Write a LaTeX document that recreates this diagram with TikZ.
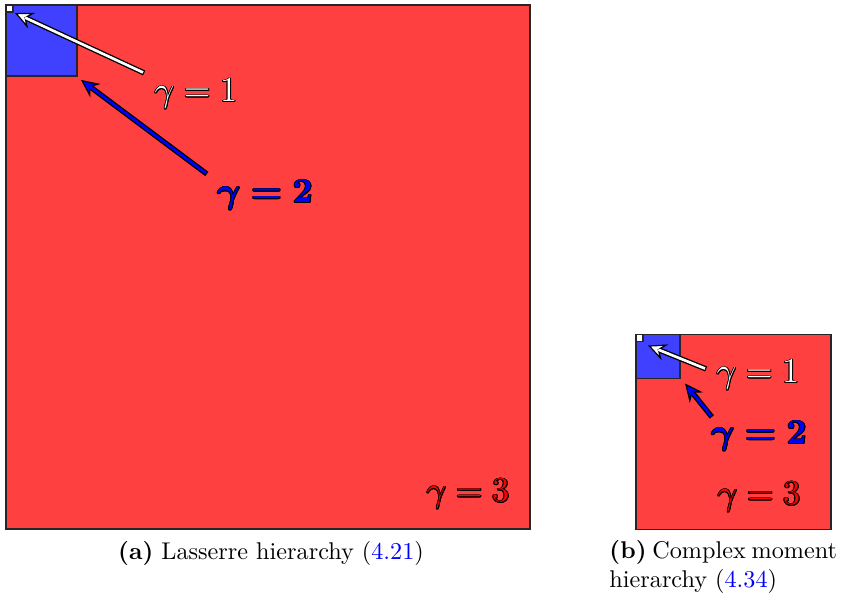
\documentclass[tikz,border=0pt]{standalone}
\usepackage{amsmath}
\usepackage{contour}
\usetikzlibrary{arrows.meta, positioning}
\contourlength{0.4pt}

\tikzset{
  sq/.style={draw=black!85, line width=0.5pt, anchor=north west, inner sep=0pt, outer sep=0pt},
  lbl/.style={anchor=base, font=\fontsize{15.5}{18}\selectfont},
  ptr/.style={black, line width=2.2pt, -{Stealth[length=7.5pt, width=7pt, inset=2.6pt, line width=0.5pt, fill=#1]}},
  ptrin/.style={#1, line width=1.1pt, shorten >=4.6pt, shorten <=0.5pt},
}

\begin{document}
\begin{tikzpicture}[x=0.4132pt, y=-0.4132pt]
    \useasboundingbox (0,0) rectangle (841,597);

    % (a) Lasserre
    \node[sq, fill=red!75, minimum size=216.5pt] (lasC) at (6,5) {};
    \node[sq, fill=blue!75, minimum size=29.3pt] (lasB) at (lasC.north west) {};
    \node[sq, fill=white, minimum size=2.9pt] (lasA) at (lasC.north west) {};

    \node[lbl] (lasone) at (196,102) {\contour{black}{\color{white}$\gamma = 1$}};
    \node[lbl] (lastwo) at (265,203) {\contour{black}{\color{blue}\boldmath$\gamma = 2$}};
    \node[lbl] (lasthree) at (468,502) {\contour{black}{\color{red}$\gamma = 3$}};

    \draw[ptr=white] ([shift={(-2,-29)}]lasone.base west) -- ([shift={(2,1)}]lasA.south east);
    \draw[ptrin=white] ([shift={(-2,-29)}]lasone.base west) -- ([shift={(2,1)}]lasA.south east);
    \draw[ptr=blue] ([shift={(-2,-29)}]lastwo.base west) -- ([shift={(4,4)}]lasB.south east);
    \draw[ptrin=blue] ([shift={(-2,-29)}]lastwo.base west) -- ([shift={(4,4)}]lasB.south east);

    \node[anchor=base] (capa) at (271,560) {\textbf{(a)} Lasserre hierarchy (\textcolor{blue}{4.21})};

    % (b) complex moment
    \node[sq, fill=red!75, minimum size=80.6pt] (cmC) at (636,334.5) {};
    \node[sq, fill=blue!75, minimum size=18.2pt] (cmB) at (cmC.north west) {};
    \node[sq, fill=white, minimum size=2.9pt] (cmA) at (cmC.north west) {};

    \node[lbl] (cmone) at (758,383) {\contour{black}{\color{white}$\gamma = 1$}};
    \node[lbl] (cmtwo) at (759,444) {\contour{black}{\color{blue}\boldmath$\gamma = 2$}};
    \node[lbl] (cmthree) at (759,505) {\contour{black}{\color{red}$\gamma = 3$}};

    \draw[ptr=white] ([shift={(-2,-14)}]cmone.base west) -- ([shift={(5,4)}]cmA.south east);
    \draw[ptrin=white] ([shift={(-2,-14)}]cmone.base west) -- ([shift={(5,4)}]cmA.south east);
    \draw[ptr=blue] ([shift={(9,-27)}]cmtwo.base west) -- ([shift={(5,5)}]cmB.south east);
    \draw[ptrin=blue] ([shift={(9,-27)}]cmtwo.base west) -- ([shift={(5,5)}]cmB.south east);

    \node[anchor=base west, inner sep=0pt] (capb) at (609,559) {\spaceskip=2.4pt\textbf{(b)} Complex moment};
    \node[anchor=base west, inner sep=0pt] (capbb) at (609,588) {hierarchy (\textcolor{blue}{4.34})};
\end{tikzpicture}
\end{document}
